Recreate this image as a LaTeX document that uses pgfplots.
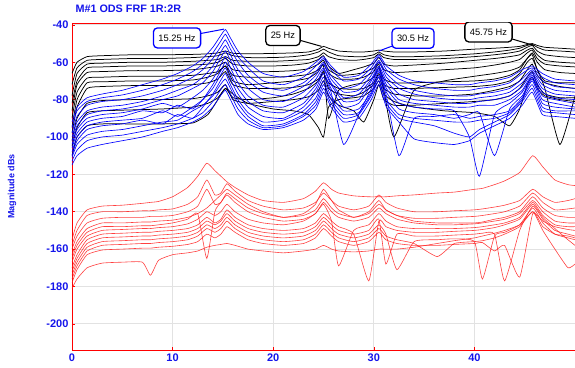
\documentclass[border=0pt]{standalone}
\usepackage{fontspec}
\setmainfont{Liberation Sans}
\usepackage{pgfplots}
\pgfplotsset{compat=1.18}
\usepackage{pgfplotstable}
\definecolor{lblue}{RGB}{0,0,255}
\definecolor{lred}{RGB}{255,30,30}
\definecolor{gridgray}{RGB}{226,226,226}
\definecolor{tickblue}{RGB}{20,20,235}
\tikzset{
  black curve/.style={black, line width=0.75pt, smooth, tension=0.3},
  blue curve/.style={lblue, line width=0.65pt, smooth, tension=0.3},
  red curve/.style={lred, line width=0.6pt, opacity=0.85, smooth, tension=0.3},
  callout/.style={draw, fill=white, rounded corners=4pt, line width=1.3pt, inner xsep=5pt, inner ysep=4pt, minimum height=20pt, font=\fontsize{9.3}{10}\selectfont, text=black},
}
\begin{document}
\begin{tikzpicture}
\pgfplotstableread[row sep=\\]{
x b1 b2 b3 b4 b5 b6 b7 b8 b9 b10 b11 b12\\
0 -92 -95 -98 -100 -102 -104 -106 -108 -110 -111 -113 -115\\
0.5 -84 -86 -89 -92 -94 -96 -98 -100 -102 -104 -107 -110\\
1.5 -79 -81 -83 -86 -88 -90 -92 -94 -96 -99 -102 -106\\
3 -77 -79 -81 -84 -86 -88 -90 -92 -94 -97 -100 -104\\
5 -75 -77.5 -80 -83 -85 -87 -89 -91 -93 -96 -99 -102\\
7 -72 -75 -78 -81 -83 -85 -86 -90 -91 -94 -97 -100\\
9 -69 -72 -75 -78 -80 -82 -87 -86 -93 -92 -95 -97\\
10.5 -66 -69 -72 -75 -78 -84 -83 -89 -88 -91 -93 -95\\
12 -62 -65 -68 -72 -74 -79 -85 -84 -90 -86 -90 -92\\
13 -58 -61 -64 -68 -71 -75 -80 -80 -84 -83 -87 -89\\
14 -52 -55 -58 -62 -65 -69 -72 -74 -77 -78 -81 -84\\
14.75 -46 -49 -52 -55 -58 -62 -65 -67 -70 -72 -75 -78\\
15.25 -42.5 -45 -48 -51 -54 -57 -60 -63 -66 -69 -72 -75\\
15.75 -47 -50 -53 -56 -59 -63 -66 -69 -72 -74 -77 -80\\
16.5 -54 -57 -60 -64 -67 -71 -74 -77 -80 -82 -85 -88\\
17.5 -60 -63 -67 -70 -74 -78 -81 -84 -87 -89 -91 -93\\
19 -66 -70 -73 -76 -80 -83 -86 -89 -92 -94 -95 -96\\
21 -68 -72 -75 -78 -81 -84 -87 -90 -91 -93 -94 -95\\
23 -65 -68 -71 -73 -76 -79 -82 -84 -86 -88 -89 -91\\
24.25 -60 -62 -65 -67 -69 -72 -74 -76 -79 -81 -83 -85\\
25 -57 -58 -60 -61 -63 -64 -66 -68 -70 -72 -74 -76\\
25.75 -62 -64 -67 -69 -71 -72 -74 -76 -78 -80 -82 -84\\
27 -68 -70 -74 -76 -79 -81 -84 -104 -86 -88 -90 -92\\
28.5 -67 -69 -72 -75 -77 -80 -82 -88 -85 -87 -88 -90\\
29.75 -61 -63 -65 -67 -69 -70 -72 -74 -76 -77 -78 -80\\
30.5 -56 -57 -59 -60 -62 -63 -64 -65 -67 -68 -70 -72\\
31.25 -62 -64 -66 -68 -70 -72 -74 -76 -78 -80 -82 -84\\
32.5 -67 -69 -72 -74 -77 -80 -82 -85 -110 -88 -90 -92\\
34 -70 -72 -75 -77 -80 -82 -84 -87 -90 -90 -92 -101\\
36 -71 -74 -77 -79 -81 -83 -85 -88 -89 -91 -94 -103\\
38 -72 -75 -78 -80 -82 -84 -86 -90 -88 -92 -98 -104\\
39.5 -72 -75 -78 -80 -82 -84 -100 -88 -90 -92 -100 -102\\
40.5 -71 -74 -77 -79 -81 -83 -121 -87 -89 -91 -96 -98\\
42 -70 -73 -76 -78 -80 -83 -88 -110 -88 -90 -92 -94\\
43.5 -68 -71 -74 -76 -78 -80 -82 -85 -86 -87 -88 -90\\
44.75 -64 -66 -69 -71 -73 -75 -76 -78 -79 -80 -81 -83\\
45.75 -62 -63 -64 -65 -66 -67 -68 -69 -70 -72 -74 -76\\
46.75 -66 -68 -70 -72 -74 -76 -78 -80 -82 -84 -86 -88\\
48 -69 -71 -73 -75 -77 -79 -80 -82 -84 -86 -87 -89\\
50 -70 -72 -74 -76 -78 -80 -82 -84 -85 -86 -88 -90\\
}\bluetab
\begin{axis}[
  scale only axis, width=503pt, height=327pt,
  xmin=0, xmax=50, ymin=-214, ymax=-39,
  axis lines*=left,
  axis line style={-, red, line width=0.8pt},
  xtick={0,10,20,30,40}, ytick={-200,-180,-160,-140,-120,-100,-80,-60,-40},
  grid=major, major grid style={gridgray, line width=0.9pt},
  tick style={red, line width=0.6pt}, major tick length=3pt, tick align=inside,
  ticklabel style={font=\fontsize{11}{12}\selectfont\bfseries, text=tickblue},
  /pgf/number format/assume math mode=true,
  ylabel={Magnitude dBs},
  ylabel style={at={(axis description cs:-0.1193,0.5)}, anchor=center, font=\fontsize{9}{10}\selectfont\bfseries, text=tickblue},
  title={M\#1 ODS FRF 1R:2R},
  title style={at={(axis description cs:0,1)}, anchor=base west, yshift=4pt, font=\fontsize{10.8}{12}\selectfont\bfseries, text=tickblue},
]
% black curves
\addplot[black curve] coordinates {(0,-66)(0.5,-60)(1.5,-57)(3,-56.5)(6,-56)(9,-56)(12,-55.8)(13.5,-55.5)(14.5,-55)(15.25,-54)(16,-55.2)(17.5,-55.5)(20,-55.3)(22,-55)(23.5,-54.5)(24.5,-53)(25,-51.5)(25.5,-52.5)(26.5,-54)(28,-54.5)(29,-54.5)(30,-54)(30.5,-53.5)(31,-54)(32,-54.5)(34,-54.5)(37,-54)(40,-53)(42,-52.5)(43.5,-52)(44.5,-51.5)(45.25,-50.5)(45.75,-50)(46.25,-51)(47,-52)(48.5,-52.5)(50,-53)};
\addplot[black curve] coordinates {(0,-72)(0.5,-63)(1.5,-59)(3,-58.5)(6,-58)(9,-58)(12,-57.5)(13.5,-57)(14.5,-56.5)(15.25,-55)(16,-56.5)(17.5,-57.5)(20,-57.5)(22,-57)(23.5,-56)(24.5,-54.5)(25,-53)(25.5,-54.5)(26.5,-56.5)(28,-57)(29,-57)(30,-56)(30.5,-54.5)(31,-56)(32,-57)(34,-57)(37,-56.5)(40,-55.5)(42,-54.5)(43.5,-53.5)(44.5,-52.5)(45.25,-51)(45.75,-50.5)(46.25,-52)(47,-53.5)(48.5,-54)(50,-54.5)};
\addplot[black curve] coordinates {(0,-78)(0.5,-66)(1.5,-61)(3,-60.5)(6,-60)(9,-60)(12,-59.5)(13.5,-59)(14.5,-58.5)(15.25,-57)(16,-59)(17.5,-59.5)(20,-59.5)(22,-59)(23.5,-58.5)(24.5,-57)(25,-55)(25.5,-57)(26.5,-58.5)(28,-59)(29,-58.5)(30,-57.5)(30.5,-55.5)(31,-57.5)(32,-58.5)(34,-58.5)(37,-58)(40,-57)(42,-56)(43.5,-55)(44.5,-54)(45.25,-52)(45.75,-51)(46.25,-54)(47,-56)(48.5,-57)(50,-57.5)};
\addplot[black curve] coordinates {(0,-82)(0.5,-70)(1.5,-63)(3,-62.5)(6,-62)(9,-62)(12,-61.5)(13.5,-61)(14.5,-60)(15.25,-58)(16,-61)(17.5,-62)(20,-62)(22,-61.5)(23.5,-60.5)(24.5,-58.5)(25,-56.5)(25.5,-62)(26.5,-66)(28,-64)(29,-62.5)(30,-60.5)(30.5,-57.5)(31,-61)(32,-62)(34,-61.5)(37,-60.5)(40,-59)(42,-58)(43.5,-57)(44.5,-56)(45.25,-53.5)(45.75,-52.5)(46.25,-56)(47,-59)(48.5,-60)(50,-60.5)};
\addplot[black curve] coordinates {(0,-86)(0.5,-72)(1.5,-65.5)(3,-65)(6,-64.5)(9,-64.5)(12,-64)(13.5,-63)(14.5,-62)(15.25,-60)(16,-64)(17.5,-65)(20,-65)(22,-64.5)(23.5,-63.5)(24.5,-61)(25,-59)(25.5,-64)(26.5,-67)(28,-66.5)(29,-65.5)(30,-63)(30.5,-60)(31,-64)(32,-65.5)(34,-65)(37,-64)(40,-63)(42,-61.5)(43.5,-60)(44.5,-58.5)(45.25,-55)(45.75,-53.5)(46.25,-58)(47,-61)(48.5,-62)(50,-62.5)};
\addplot[black curve] coordinates {(0,-90)(0.5,-76)(1.5,-68.5)(3,-68)(6,-67.5)(9,-67.5)(12,-67)(13.5,-66)(14.5,-65)(15.25,-62)(16,-67)(17.5,-68)(20,-68)(22,-67.5)(23.5,-66.5)(24.5,-64)(25,-61)(25.5,-66)(26.5,-69)(28,-69)(29,-68)(30,-65)(30.5,-61)(31,-75)(32,-100)(34,-75)(37,-70)(40,-67.5)(42,-66)(43.5,-64.5)(44.5,-62.5)(45.25,-58)(45.75,-55)(46.25,-60)(47,-64)(48.5,-65.5)(50,-66)};
\addplot[black curve] coordinates {(0,-95)(0.5,-80)(1.5,-71)(3,-70.5)(6,-70)(9,-70)(12,-69.5)(13.5,-68)(14.5,-66)(15.25,-62)(16,-70)(17.5,-72)(20,-71)(22,-70)(23.5,-68.5)(24.5,-65)(25,-62)(25.5,-90)(26.5,-75)(28,-72)(29,-71)(30,-68)(30.5,-63)(31,-69)(32,-71)(34,-71)(37,-70.5)(40,-70)(42,-69)(43.5,-67)(44.5,-64)(45.25,-58)(45.75,-56)(46.25,-64)(47,-70)(48.5,-71)(50,-71)};
\addplot[black curve] coordinates {(0,-98)(0.5,-84)(1.5,-74)(3,-73)(6,-72.5)(9,-72.5)(12,-72)(13.5,-71)(14.5,-69)(15.25,-65)(16,-72)(17.5,-74)(20,-74)(22,-73.5)(23.5,-72)(24.5,-69)(25,-66)(25.5,-71)(26.5,-74)(28,-74.5)(29,-74)(30,-71)(30.5,-66)(31,-72)(32,-74)(34,-74)(37,-73.5)(40,-73)(42,-72)(43.5,-70)(44.5,-66)(45.25,-60)(45.75,-58)(46.25,-64)(47,-74)(48.5,-104)(50,-78)};
\addplot[black curve] coordinates {(0,-102)(0.5,-90)(1.5,-82)(3,-80.5)(6,-80)(9,-80)(12,-79.5)(13.5,-78)(14.5,-76)(15.25,-72)(16,-80)(17.5,-82)(20,-81)(22,-80)(23.5,-78.5)(24.5,-75)(25,-70)(25.5,-78)(26.5,-83)(28,-86)(29,-92)(30,-80)(30.5,-72)(31,-80)(32,-83)(34,-83)(37,-82)(40,-81)(42,-80)(43.5,-78)(44.5,-74)(45.25,-68)(45.75,-65)(46.25,-72)(47,-77)(48.5,-79)(50,-79)};
\addplot[black curve] coordinates {(0,-110)(0.5,-100)(1.5,-94)(3,-93)(6,-93)(9,-93)(12,-92.5)(13.5,-88)(14.5,-80)(15.25,-74)(16,-79)(17.5,-80)(20,-79)(22,-77)(23.5,-74)(24.5,-70)(25,-65)(25.5,-74)(26.5,-77)(28,-78)(29,-76)(30,-72)(30.5,-68)(31,-74)(32,-77)(34,-78)(37,-78)(40,-77)(42,-75)(43.5,-73)(44.5,-70)(45.25,-64)(45.75,-61)(46.25,-67)(47,-71)(48.5,-73)(50,-74)};
\addplot[black curve] coordinates {(0,-105)(0.5,-95)(1.5,-87)(3,-86)(6,-85.5)(9,-85)(12,-84)(13.5,-82)(14.5,-79)(15.25,-74)(16,-77)(17.5,-82)(20,-85)(22,-86)(23.5,-88)(24.5,-95)(25,-100)(25.5,-84)(26.5,-80)(28,-79)(29,-78)(30,-74)(30.5,-70)(31,-77)(32,-81)(34,-84)(37,-86)(40,-87)(42,-89)(43.5,-94)(44.5,-85)(45.25,-72)(45.75,-68)(46.25,-74)(47,-78)(48.5,-80)(50,-81)};
% blue curves
\pgfplotsinvokeforeach{1,...,12}{\addplot[blue curve] table[x=x,y=b#1]{\bluetab};}
% red curves
\addplot[red curve] coordinates {(0,-155)(0.5,-146)(1.5,-139)(3,-137)(5,-136.5)(7,-135.5)(7.8,-135)(8.6,-134.5)(10,-132)(11.5,-127)(12.5,-121)(13.4,-114)(14.2,-118)(14.8,-121)(15.4,-124)(16.2,-127)(17.5,-131)(19,-134)(21,-135)(23,-133)(24.2,-129)(25,-124.5)(25.8,-128)(26.5,-130)(28,-131.5)(29.5,-132)(30.5,-132)(31.2,-132)(32.3,-131.5)(34,-131)(36.3,-130)(38,-129.5)(40,-128)(40.8,-127.5)(42,-125.5)(43,-123.5)(44.5,-119)(45.8,-110)(46.8,-116)(48,-123)(49.3,-125.5)(50,-126)};
\addplot[red curve] coordinates {(0,-158)(0.5,-150)(1.5,-142)(3,-140)(5,-140)(7,-139.5)(7.8,-139.5)(8.6,-139)(10,-138.5)(11.5,-136)(12.5,-132)(13.4,-123)(14.2,-131)(14.8,-130)(15.4,-125)(16.2,-129)(17.5,-134)(19,-137)(21,-139)(23,-138)(24.2,-135)(25,-130)(25.8,-134)(26.5,-137)(28,-139)(29.5,-137)(30.5,-131)(31.2,-135)(32.3,-138)(34,-140)(36.3,-140)(38,-139.5)(40,-139)(40.8,-138.5)(42,-137.5)(43,-136.5)(44.5,-134)(45.8,-128)(46.8,-132)(48,-135)(49.3,-134)(50,-133)};
\addplot[red curve] coordinates {(0,-160)(0.5,-153)(1.5,-146)(3,-143.5)(5,-143)(7,-143)(7.8,-142.5)(8.6,-142.5)(10,-142)(11.5,-140)(12.5,-137)(13.4,-128)(14.2,-136)(14.8,-135)(15.4,-130)(16.2,-133)(17.5,-138)(19,-141)(21,-143)(23,-142)(24.2,-139)(25,-133)(25.8,-138)(26.5,-141)(28,-143)(29.5,-141)(30.5,-136)(31.2,-139)(32.3,-142)(34,-143.5)(36.3,-143.5)(38,-143)(40,-142.5)(40.8,-142)(42,-141)(43,-140)(44.5,-137)(45.8,-130)(46.8,-135)(48,-139)(49.3,-138.5)(50,-138)};
\addplot[red curve] coordinates {(0,-163)(0.5,-156)(1.5,-149)(3,-146)(5,-146)(7,-145.5)(7.8,-145.5)(8.6,-145)(10,-144.5)(11.5,-143)(12.5,-141)(13.4,-138)(14.2,-134)(14.8,-131)(15.4,-128)(16.2,-131)(17.5,-136)(19,-140)(21,-143)(23,-141)(24.2,-136)(25,-128)(25.8,-134)(26.5,-139)(28,-143)(29.5,-140)(30.5,-134)(31.2,-139)(32.3,-142)(34,-145)(36.3,-146)(38,-146)(40,-146)(40.8,-145.5)(42,-144)(43,-143)(44.5,-140)(45.8,-132)(46.8,-138)(48,-142)(49.3,-143)(50,-143)};
\addplot[red curve] coordinates {(0,-165)(0.5,-158)(1.5,-151)(3,-148)(5,-148)(7,-147.5)(7.8,-147.5)(8.6,-147)(10,-146)(11.5,-144)(12.5,-141)(13.4,-165)(14.2,-140)(14.8,-135)(15.4,-131)(16.2,-135)(17.5,-140)(19,-143)(21,-145)(23,-144)(24.2,-141)(25,-135)(25.8,-140)(26.5,-143)(28,-145)(29.5,-143)(30.5,-138)(31.2,-141)(32.3,-144)(34,-146)(36.3,-147)(38,-147)(40,-146.5)(40.8,-146)(42,-145)(43,-144)(44.5,-141)(45.8,-134)(46.8,-140)(48,-145)(49.3,-146)(50,-146)};
\addplot[red curve] coordinates {(0,-167)(0.5,-160)(1.5,-153)(3,-150)(5,-149.5)(7,-149)(7.8,-149)(8.6,-148.5)(10,-148)(11.5,-146.5)(12.5,-144)(13.4,-140)(14.2,-142)(14.8,-140)(15.4,-136)(16.2,-140)(17.5,-144)(19,-146)(21,-147)(23,-145)(24.2,-141)(25,-136)(25.8,-145)(26.5,-169)(28,-150)(29.5,-147)(30.5,-141)(31.2,-145)(32.3,-148)(34,-149)(36.3,-149)(38,-149)(40,-148.5)(40.8,-148)(42,-147)(43,-146)(44.5,-143)(45.8,-135)(46.8,-142)(48,-147)(49.3,-148)(50,-148)};
\addplot[red curve] coordinates {(0,-170)(0.5,-163)(1.5,-155)(3,-152)(5,-151.5)(7,-151)(7.8,-151)(8.6,-150.5)(10,-150)(11.5,-149)(12.5,-147)(13.4,-143)(14.2,-146)(14.8,-144)(15.4,-139)(16.2,-143)(17.5,-147)(19,-149)(21,-150)(23,-149)(24.2,-146)(25,-141)(25.8,-145)(26.5,-148)(28,-152)(29.5,-177)(30.5,-145)(31.2,-148)(32.3,-150)(34,-151)(36.3,-151)(38,-150.5)(40,-150)(40.8,-149.5)(42,-148.5)(43,-147)(44.5,-144)(45.8,-136)(46.8,-143)(48,-149)(49.3,-155)(50,-158)};
\addplot[red curve] coordinates {(0,-172)(0.5,-165)(1.5,-157)(3,-154)(5,-153.5)(7,-153)(7.8,-153)(8.6,-152.5)(10,-152)(11.5,-151)(12.5,-149)(13.4,-145)(14.2,-147)(14.8,-145)(15.4,-141)(16.2,-145)(17.5,-149)(19,-151)(21,-152)(23,-151)(24.2,-148)(25,-143)(25.8,-147)(26.5,-150)(28,-152)(29.5,-150)(30.5,-144)(31.2,-168)(32.3,-152)(34,-153)(36.3,-153)(38,-152.5)(40,-152)(40.8,-151.5)(42,-152)(43,-177)(44.5,-150)(45.8,-137)(46.8,-144)(48,-150)(49.3,-152)(50,-153)};
\addplot[red curve] coordinates {(0,-174)(0.5,-167)(1.5,-159)(3,-156)(5,-155.5)(7,-155)(7.8,-155)(8.6,-154.5)(10,-154)(11.5,-153)(12.5,-151)(13.4,-147)(14.2,-149)(14.8,-147)(15.4,-143)(16.2,-147)(17.5,-151)(19,-153)(21,-154)(23,-153)(24.2,-150)(25,-145)(25.8,-149)(26.5,-152)(28,-154)(29.5,-152)(30.5,-147)(31.2,-152)(32.3,-171)(34,-156)(36.3,-155)(38,-154.5)(40,-156)(40.8,-176)(42,-153)(43,-151)(44.5,-147)(45.8,-138)(46.8,-146)(48,-152)(49.3,-154)(50,-155)};
\addplot[red curve] coordinates {(0,-176)(0.5,-169)(1.5,-161)(3,-158)(5,-157.5)(7,-157)(7.8,-157)(8.6,-156.5)(10,-156)(11.5,-155)(12.5,-153)(13.4,-149)(14.2,-151)(14.8,-149)(15.4,-145)(16.2,-149)(17.5,-153)(19,-155)(21,-156)(23,-155)(24.2,-152)(25,-147)(25.8,-151)(26.5,-154)(28,-156)(29.5,-154)(30.5,-149)(31.2,-153)(32.3,-155)(34,-157)(36.3,-164)(38,-157)(40,-156)(40.8,-155.5)(42,-154)(43,-152)(44.5,-148)(45.8,-140)(46.8,-150)(48,-160)(49.3,-170)(50,-168)};
\addplot[red curve] coordinates {(0,-178)(0.5,-171)(1.5,-163)(3,-160.5)(5,-160)(7,-159.5)(7.8,-159.5)(8.6,-159)(10,-158.5)(11.5,-157.5)(12.5,-156)(13.4,-152)(14.2,-154)(14.8,-152)(15.4,-148)(16.2,-151)(17.5,-155)(19,-157)(21,-158)(23,-157)(24.2,-154)(25,-149)(25.8,-153)(26.5,-156)(28,-158)(29.5,-156)(30.5,-151)(31.2,-155)(32.3,-157)(34,-158)(36.3,-158)(38,-157.5)(40,-157)(40.8,-156.5)(42,-161)(43,-158)(44.5,-175)(45.8,-141)(46.8,-148)(48,-152)(49.3,-153)(50,-154)};
\addplot[red curve] coordinates {(0,-181)(0.5,-176)(1.5,-170)(3,-167.5)(5,-167)(7,-167)(7.8,-174)(8.6,-166)(10,-163)(11.5,-162)(12.5,-161)(13.4,-159)(14.2,-158)(14.8,-157.5)(15.4,-157)(16.2,-158)(17.5,-160)(19,-161)(21,-162)(23,-161)(24.2,-160)(25,-158)(25.8,-160)(26.5,-161)(28,-161.5)(29.5,-161)(30.5,-160)(31.2,-160)(32.3,-160)(34,-159)(36.3,-157)(38,-155.5)(40,-154)(40.8,-153)(42,-151.5)(43,-150)(44.5,-147)(45.8,-140)(46.8,-145)(48,-148)(49.3,-149.5)(50,-150)};
% top frame line
\draw[red, line width=0.8pt] (rel axis cs:0,1) -- (rel axis cs:1,1);
% callouts
\draw[lblue, line width=1pt] (axis cs:10.44,-47) -- (axis cs:15.1,-42.3);
\node[callout, draw=lblue] at (axis cs:10.44,-47) {15.25 Hz};
\draw[black, line width=1pt] (axis cs:20.97,-45.7) -- (axis cs:24.8,-51.5);
\node[callout, draw=black] at (axis cs:20.97,-45.7) {25 Hz};
\draw[lblue, line width=1pt] (axis cs:33.9,-47.2) -- (axis cs:30.5,-54);
\node[callout, draw=lblue] at (axis cs:33.9,-47.2) {30.5 Hz};
\draw[black, line width=1pt] (axis cs:41.4,-43.8) -- (axis cs:45.9,-51);
\node[callout, draw=black] at (axis cs:41.4,-43.8) {45.75 Hz};
\node[anchor=north east, font=\fontsize{11}{12}\selectfont\bfseries, text=tickblue, inner sep=0.333em] at (axis cs:50,-214) {50};
\end{axis}
\pgfresetboundingbox
\path[use as bounding box] ([xshift=-72pt,yshift=-17pt]current axis.south west) rectangle ([yshift=23pt]current axis.north east);
\end{tikzpicture}
\end{document}
